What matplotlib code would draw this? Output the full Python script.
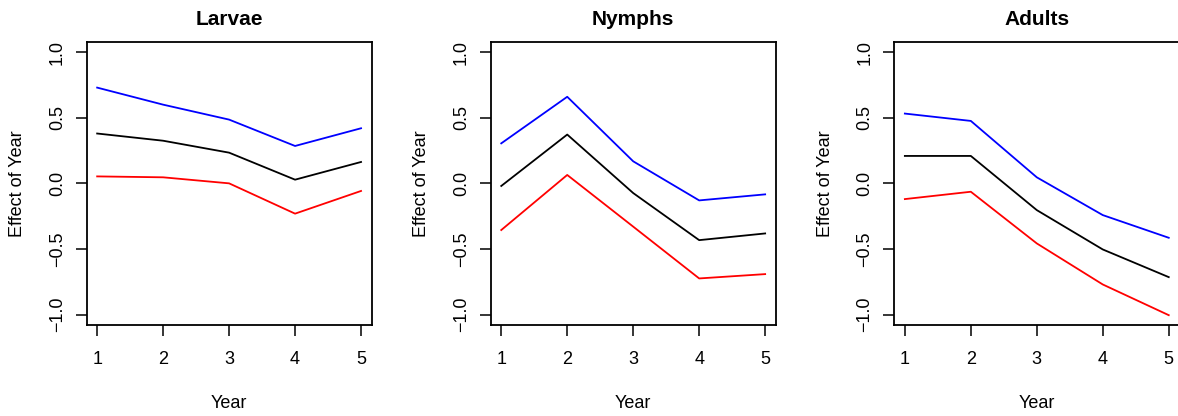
import numpy as np
import matplotlib
matplotlib.use("Agg")
import matplotlib.pyplot as plt

plt.rcParams['font.family'] = ['Liberation Sans', 'DejaVu Sans']

years = [1, 2, 3, 4, 5]
stages = ["Larvae", "Nymphs", "Adults"]

# estimated year effect with lower / upper bounds for each stage
larvae_est = [0.38, 0.325, 0.234, 0.028, 0.163]
larvae_lo = [0.053, 0.046, 0.0, -0.231, -0.058]
larvae_hi = [0.73, 0.60, 0.486, 0.285, 0.42]

nymphs_est = [-0.02, 0.372, -0.074, -0.433, -0.382]
nymphs_lo = [-0.356, 0.064, -0.33, -0.725, -0.692]
nymphs_hi = [0.305, 0.66, 0.168, -0.13, -0.084]

adults_est = [0.209, 0.209, -0.204, -0.504, -0.715]
adults_lo = [-0.12, -0.064, -0.458, -0.771, -1.005]
adults_hi = [0.532, 0.476, 0.046, -0.242, -0.415]

series = [(larvae_est, larvae_lo, larvae_hi),
          (nymphs_est, nymphs_lo, nymphs_hi),
          (adults_est, adults_lo, adults_hi)]

W, H = 1178, 416
fig = plt.figure(figsize=(W / 100, H / 100), dpi=100)

lefts = [86.6, 490.7, 894.3]
aw, top, bot = 285.0, 41.7, 325.0

for i, name in enumerate(stages):
    ax = fig.add_axes([lefts[i] / W, 1 - bot / H, aw / W, (bot - top) / H])
    est, lo, hi = series[i]
    ax.plot(years, hi, color='#0000ff', lw=1.3)
    ax.plot(years, est, color='black', lw=1.3)
    ax.plot(years, lo, color='#ff0000', lw=1.3)

    # R-style 4% padding around the data range
    ax.set_xlim(1 - 0.16, 5 + 0.16)
    ax.set_ylim(-1.08, 1.08)
    ax.set_xticks(years)
    ax.set_yticks([-1.0, -0.5, 0.0, 0.5, 1.0])
    ax.set_yticklabels(["\u22121.0", "\u22120.5", "0.0", "0.5", "1.0"],
                       rotation=90, va='center')
    ax.tick_params(direction='out', length=8, width=1.1, labelsize=13)
    ax.tick_params(axis='x', pad=11)
    ax.tick_params(axis='y', pad=7)
    for s in ax.spines.values():
        s.set_linewidth(1.3)

    ax.set_title(name, fontsize=15, fontweight='bold', pad=12)
    ax.set_xlabel("Year", fontsize=13)
    ax.xaxis.set_label_coords(0.5, -(403 - bot) / (bot - top))
    ax.xaxis.label.set_va('center')
    ax.set_ylabel("Effect of Year", fontsize=13)
    ax.yaxis.set_label_coords(-69 / aw, 0.5)
    ax.yaxis.label.set_va('center')

fig.savefig("out.png", dpi=100)
